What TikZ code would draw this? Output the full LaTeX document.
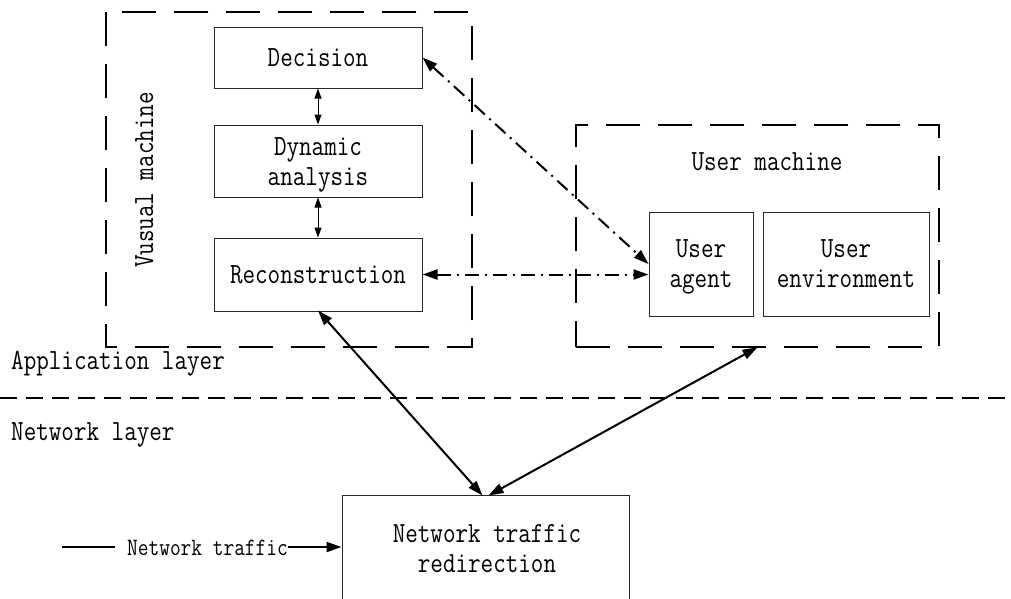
\documentclass[tikz,border=0pt]{standalone}
\usepackage{graphicx}
\usetikzlibrary{arrows.meta,positioning,calc}
% text set in a narrow, tall monospaced face
\newcommand{\tallt}[1]{\scalebox{1}[1.2]{\begin{tabular}{@{}c@{}}#1\end{tabular}}}
\begin{document}
\begin{tikzpicture}[x=1pt,y=-1pt,
  every node/.style={font=\ttfamily\fontsize{24.4}{25}\selectfont,align=center},
  block/.style={draw=black!85,line width=1pt,minimum width=208pt,inner sep=0pt},
  ubox/.style={draw=black!85,line width=1pt,inner sep=0pt},
  tx/.style={inner sep=0pt,yshift=-3pt},
  region/.style={draw,line width=2.5pt,dash pattern=on 34pt off 18pt,inner sep=0pt},
  layerline/.style={line width=2.5pt,dash pattern=on 17pt off 9pt},
  dd/.style={line width=2pt,dash pattern=on 14pt off 6pt on 2pt off 6pt,{Triangle[length=15pt,width=10pt]}-{Triangle[length=15pt,width=10pt]}},
  solidarrow/.style={line width=2pt,{Triangle[length=15pt,width=10pt]}-{Triangle[length=15pt,width=10pt]}},
  small/.style={line width=1pt,{Triangle[length=10pt,width=7pt]}-{Triangle[length=10pt,width=7pt]}},
  label/.style={inner sep=0pt,anchor=west,yshift=-2pt}
]
\useasboundingbox (0,0) rectangle (1011,598);
\clip (0,0) rectangle (1011,598);

% virtual machine region
\draw[region] (106,12) rectangle (472,347);
\node[rotate=90,inner sep=0pt] (vm) at (147,180) {\tallt{Vusual machine}};
\node[block,minimum height=61pt] (dec) at (318,57.5) {};
\node[tx] (dect) at (dec) {\tallt{Decision}};
\node[block,minimum height=72pt] (dyn) at (318,161) {};
\node[tx] (dynt) at (dyn) {\tallt{Dynamic\\analysis}};
\node[block,minimum height=73pt] (rec) at (318,274.5) {};
\node[tx] (rect) at (rec) {\tallt{Reconstruction}};
\draw[small] (dec.south) -- (dyn.north);
\draw[small] (dyn.south) -- (rec.north);

% user machine region
\node[region,minimum width=363pt,minimum height=222pt] (um) at (757.5,236) {};
\node[tx] (umt) at (767,161) {\tallt{User machine}};
\node[ubox,minimum width=104pt,minimum height=104pt] (agent) at (701,264) {};
\node[tx] (agentt) at (701,263) {\tallt{User\\agent}};
\node[ubox,minimum width=166pt,minimum height=104pt] (env) at (846,264) {};
\node[tx] (envt) at (846,263) {\tallt{User\\environment}};

% layers
\coordinate (lL) at (0,398);
\coordinate (lR) at (1011,398);
\draw[layerline] (lL) -- (lR);
\node[label] (app) at (11,361) {\tallt{Application layer}};
\node[label] (net) at (11,432) {\tallt{Network layer}};

% traffic redirection
\node[ubox,minimum width=287pt,minimum height=120pt] (redir) at (485.5,555) {};
\node[tx] (redirt) at (487,548) {\tallt{Network traffic\\redirection}};
\node[tx,font=\ttfamily\fontsize{20.8}{22}\selectfont] (nt) at (207.5,547) {\tallt{Network traffic}};
\coordinate (ntin) at (62,547);
\draw[line width=2pt] (ntin) -- ($(ntin -| nt.west)+(-12,0)$);
\draw[line width=2pt,-{Triangle[length=15pt,width=10pt]}] (ntin -| nt.east) -- (ntin -| redir.west);

% connectors
\draw[dd] (dec.east) -- (agent.west);
\draw[dd] (rec.east) -- (agent.west |- rec.east);
\draw[solidarrow] ([yshift=1pt]rec.south) -- ([xshift=-3pt,yshift=-1pt]redir.north);
\draw[solidarrow] ([yshift=1pt]um.south) -- ([xshift=3pt,yshift=-1pt]redir.north);
\end{tikzpicture}
\end{document}
